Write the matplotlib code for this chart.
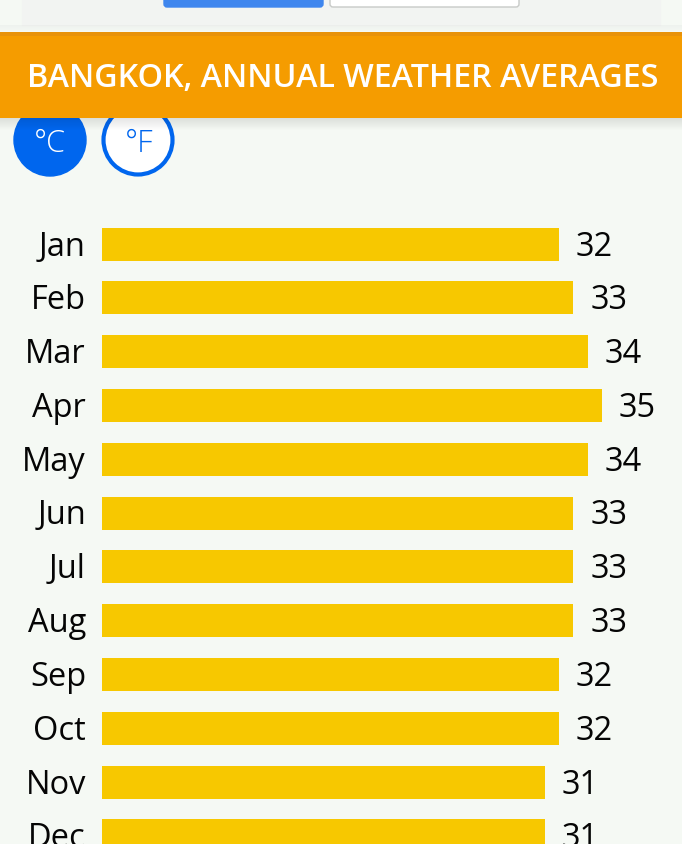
import matplotlib
matplotlib.use("Agg")
import matplotlib.pyplot as plt
from matplotlib.patches import Rectangle, Circle, FancyBboxPatch

# Bangkok, average high temperature per month (°C)
months = ["Jan", "Feb", "Mar", "Apr", "May", "Jun",
          "Jul", "Aug", "Sep", "Oct", "Nov", "Dec"]
temps_c = [32, 33, 34, 35, 34, 33, 33, 33, 32, 32, 31, 31]
title = "BANGKOK, ANNUAL WEATHER AVERAGES"
units = ["°C", "°F"]

W, H = 682, 844
BG = "#F5F9F4"
BAR = "#F7C800"
ORANGE = "#F59C00"
BLUE = "#0066EE"
FONT = ["Open Sans", "DejaVu Sans"]

fig = plt.figure(figsize=(W / 100, H / 100), dpi=100, facecolor=BG)

# page furniture in pixel coordinates
page = fig.add_axes([0, 0, 1, 1])
page.set_xlim(0, W)
page.set_ylim(H, 0)
page.axis("off")
page.set_zorder(2)
page.patch.set_alpha(0)

# top strip with the two tab buttons
page.add_patch(Rectangle((22, 0), 638, 25, color="#F2F4F2", zorder=1))
for k in range(6):
    page.add_patch(Rectangle((0, 25 + k), W, 1, color="#DDE0DD", alpha=0.25 - 0.04 * k, lw=0, zorder=1))
page.add_patch(FancyBboxPatch((164, -5), 159, 12, boxstyle="round,pad=0,rounding_size=3",
                              color="#3F86EE", zorder=2))
page.add_patch(FancyBboxPatch((330, -5), 189, 12, boxstyle="round,pad=0,rounding_size=3",
                              facecolor="white", edgecolor="#C8CAC8", lw=1, zorder=2))

# unit toggles
page.add_patch(Circle((50, 140), 36, color=BLUE, zorder=3))
page.text(50, 152, units[0], color="white", fontsize=22, family=FONT, weight="light",
          ha="center", va="baseline", zorder=4)
page.add_patch(Circle((138, 140), 34.5, facecolor="white", edgecolor=BLUE, lw=3, zorder=3))
page.text(139, 152, units[1], color=BLUE, fontsize=22, family=FONT, weight="light",
          ha="center", va="baseline", zorder=4)

# orange header with shadow
for k in range(12):
    page.add_patch(Rectangle((0, 118 + k), W, 1, color="#000000", alpha=0.10 * (1 - k / 12), lw=0, zorder=5))
page.add_patch(Rectangle((0, 32), W, 86, color=ORANGE, lw=0, zorder=6))
page.add_patch(Rectangle((0, 32), W, 4, color="#E8920A", lw=0, zorder=6))
page.text(342.5, 87, title, color="white", fontsize=23.2, family=FONT, weight="semibold",
          ha="center", va="baseline", zorder=7)

# bar chart
px_per_unit = 14.28
step = 53.8
top_px = 244 - step / 2
ax = fig.add_axes([102 / W, 0, (W - 102) / W, (H - top_px) / H])
ax.set_facecolor("none")
ax.set_xlim(0, (W - 102) / px_per_unit)
ax.set_ylim((H - 244) / step, -0.5)
ax.axis("off")

ypos = list(range(len(months)))
ax.barh(ypos, temps_c, height=33 / step, color=BAR, lw=0)
for i, (m, v) in enumerate(zip(months, temps_c)):
    ax.annotate(m, xy=(0, i), xytext=(-16, -11.5), textcoords="offset pixels",
                ha="right", va="baseline", fontsize=23.5, family=FONT, weight="medium",
                color="#050505", annotation_clip=False)
    ax.annotate(str(v), xy=(v, i), xytext=(17, -11.5), textcoords="offset pixels",
                ha="left", va="baseline", fontsize=23.5, family=FONT, weight="medium",
                color="#050505", annotation_clip=False)

fig.savefig("out.png", dpi=100, facecolor=BG)
